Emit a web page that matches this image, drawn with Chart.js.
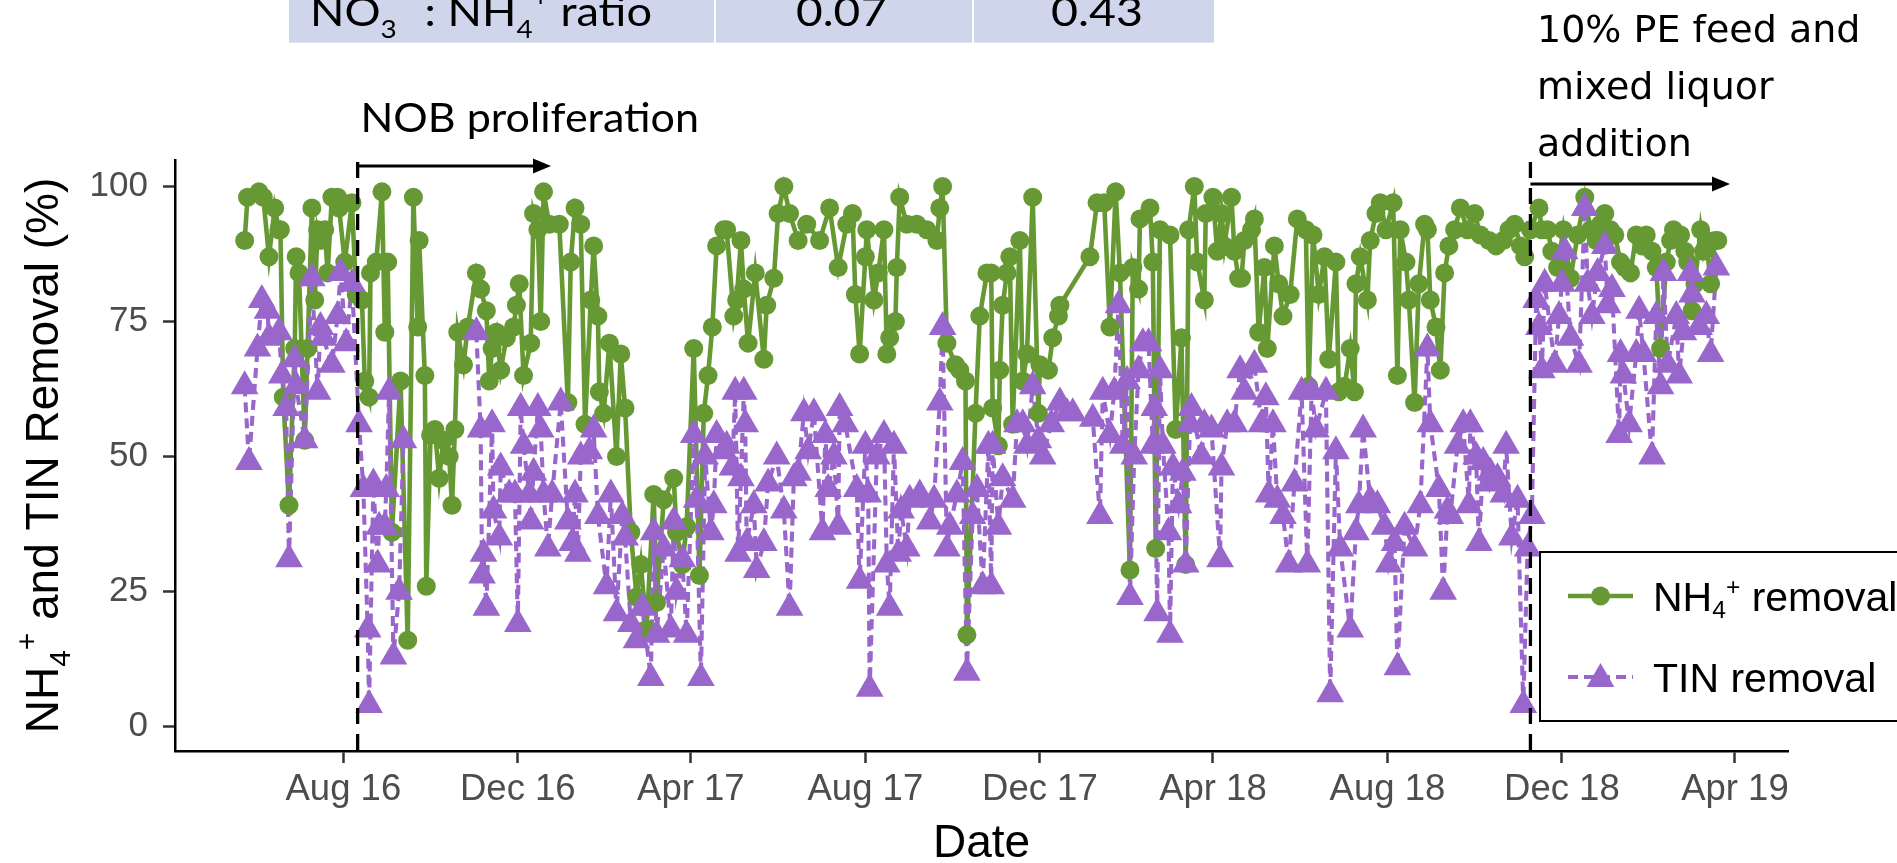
<!DOCTYPE html>
<html>
<head>
<meta charset="utf-8">
<title>NH4+ and TIN removal</title>
<script src="https://cdn.jsdelivr.net/npm/chart.js@4.4.1/dist/chart.umd.min.js"></script>
<style>
  html, body { margin: 0; padding: 0; background: #ffffff; }
  canvas { display: block; }
</style>
</head>
<body>
<canvas id="c" width="1897" height="863"></canvas>
<script>
// ---- Data (days counted from 2016-08-01) ----
const originDate = '2016-08-01';

const xTickDays = [0, 122, 243, 365, 487, 608, 730, 852, 973];
const xTickLabels = ['Aug 16', 'Dec 16', 'Apr 17', 'Aug 17', 'Dec 17', 'Apr 18', 'Aug 18', 'Dec 18', 'Apr 19'];
const yTickValues = [0, 25, 50, 75, 100];

const nh4Days = [
  -69,-67,-59,-56,-52,-48,-45,-44,-42,-38,-34,-33,-31,-27,-25,-22,-20,-18,-16,-13,-11,-8,-4,-3,
  1,6,9,13,15,18,19,23,27,29,31,34,40,45,49,52,53,57,58,61,64,67,70,74,76,78,80,84,87,93,96,
  100,102,104,107,110,114,119,121,123,126,131,133,136,138,140,144,151,157,159,162,166,169,173,175,178,179,182,186,191,194,197,
  201,205,208,212,217,219,224,231,233,237,240,245,249,252,255,258,261,266,268,273,275,278,280,283,288,294,296,
  301,304,308,312,318,324,333,340,346,352,356,358,361,365,366,371,374,378,380,382,386,387,389,394,
  401,408,415,417,419,422,428,431,435,436,442,445,450,453,454,458,459,461,464,466,468,473,475,478,482,486,487,493,496,500,501,
  522,527,532,536,540,543,550,552,556,557,564,566,568,571,578,582,586,589,591,595,597,
  602,603,608,611,614,616,621,623,626,628,630,635,637,640,644,646,651,654,657,662,667,673,675,678,682,686,689,694,696,
  700,704,707,708,711,716,718,722,725,729,734,737,739,743,745,749,752,756,758,760,764,767,770,773,777,781,786,791,795,
  801,806,811,815,819,823,826,830,836,838,842,845,849,853,858,863,868,872,876,879,882,886,889,893,896,
  900,904,908,911,915,918,921,925,928,930,935,938,940,943,945,949,951,953,956,959,961
];
const nh4Removal = [
  90,98,99,98,87,96,92,92,61,41,70,87,84,53,70,96,79,92,90,92,84,98,98,96,
  86,97,80,79,64,61,84,86,99,73,86,36,64,16,98,74,90,65,26,54,55,46,53,50,41,55,73,67,74,84,81,
  77,64,70,73,66,72,74,78,82,65,71,95,92,75,99,93,93,60,86,96,93,56,79,89,76,62,58,71,50,69,59,
  36,24,30,18,43,23,42,46,36,30,37,70,28,58,65,74,89,92,92,76,79,90,81,71,84,68,78,
  83,95,100,95,90,93,90,96,85,93,95,80,69,87,92,79,84,92,69,72,75,85,98,93,
  93,92,90,96,100,71,67,66,64,17,58,76,84,84,59,52,66,78,84,87,56,90,64,69,98,58,67,66,72,76,78,
  87,97,97,74,99,84,29,85,81,94,96,86,33,92,91,55,72,30,92,100,86,
  79,95,98,88,95,89,98,88,83,83,90,92,94,73,85,70,89,82,76,80,94,92,63,91,80,87,68,86,62,
  63,70,62,82,87,79,90,95,97,92,97,65,92,86,79,60,82,93,92,79,74,66,84,89,92,96,92,95,91,
  90,89,90,92,93,89,87,92,96,92,92,88,85,92,83,91,98,92,90,93,95,92,91,86,85,
  84,91,89,91,88,85,70,86,90,92,91,88,86,77,82,92,88,90,82,90,90
];

const tinDays = [
  -69,-66,-60,-57,-53,-52,-45,-43,-40,-38,-34,-33,-27,-22,-18,-16,-14,-8,-4,-2,
  2,6,11,14,17,18,21,24,25,29,30,32,35,39,42,60,
  93,96,97,98,100,104,105,109,110,116,120,122,124,126,130,131,133,136,138,140,143,146,152,157,160,162,164,166,172,175,178,184,187,191,195,197,
  201,205,209,215,217,219,224,229,231,233,237,240,245,247,250,253,257,259,261,266,268,272,274,276,278,280,281,282,287,289,294,297,
  303,308,312,315,318,322,325,329,335,337,339,343,346,347,351,359,361,365,367,368,373,378,380,382,385,388,390,394,396,
  403,410,413,417,419,422,424,429,433,436,440,443,447,451,453,454,458,461,468,471,475,478,482,486,489,495,
  501,506,510,524,529,531,536,539,542,545,548,550,553,556,559,563,566,567,569,571,573,577,578,580,584,587,589,592,593,
  600,602,607,613,614,618,623,627,630,637,642,645,647,650,653,657,661,665,670,674,677,680,687,690,694,697,
  704,708,710,713,718,723,728,731,735,737,742,749,753,758,760,766,769,772,774,779,783,787,788,792,794,797,
  801,802,807,811,813,817,821,825,828,831,834,836,838,840,847,850,852,854,858,864,868,870,873,877,882,884,887,892,893,895,899,
  904,906,909,915,918,921,923,926,932,934,937,942,943,948,953,956,960
];
const tinRemoval = [
  63,49,70,79,77,72,73,65,59,31,68,63,53,83,62,74,72,67,76,84,
  71,82,56,44,18,4,45,30,37,37,44,62,13,25,53,null,
  73,55,28,32,22,56,40,35,48,43,43,19,59,52,43,38,47,59,55,43,33,43,60,38,34,43,32,50,51,55,39,26,43,21,39,35,
  19,16,22,9,36,17,33,18,38,25,31,17,54,42,9,50,36,41,54,51,52,48,62,32,46,62,56,34,41,29,34,45,
  50,40,22,46,47,58,51,58,36,54,44,50,37,59,56,44,27,52,43,7,50,54,30,22,52,32,40,33,42,
  43,38,42,60,74,33,37,43,49,10,39,44,26,52,26,52,37,46,42,56,56,52,63,53,50,56,
  60,58,58,57,39,62,54,62,78,52,64,24,50,66,71,71,52,59,21,66,52,36,17,48,41,47,30,56,59,
  50,56,55,31,48,56,56,66,62,67,56,61,43,56,42,39,30,45,62,30,62,55,62,6,51,33,
  18,36,41,55,42,41,37,30,34,11,37,33,41,70,56,44,25,40,39,52,56,41,56,50,34,49,
  45,47,46,43,52,35,42,4,33,39,79,74,66,82,67,76,82,88,72,67,96,82,76,84,89,78,81,54,69,65,56,
  69,77,69,50,76,63,84,67,76,65,73,84,80,74,76,69,85
];

const phaseStartDays = [10, 830];
const seriesLabels = ['NH\u2084\u207A removal', 'TIN removal'];

// ---- Styles ----
const GREEN = '#669933';
const PURPLE = '#9966CC';
const SANS = '"Liberation Sans", Arial, sans-serif';
const CALIBRI_LIKE = 'Lato, "Open Sans", sans-serif';
const VERDANA_LIKE = '"DejaVu Sans", Verdana, sans-serif';
const CIRCLE_R = 9.5;
const TRI_R = 16;
const LINE_W = 4.6;
const TIN_DASH = [10, 6];

const nh4Points = nh4Days.map((d, i) => ({ x: d, y: nh4Removal[i] }));
const tinPoints = tinDays.map((d, i) => ({ x: d, y: tinRemoval[i] }));

// ---- text helpers ----
function richWidth(ctx, segs, size, family) {
  let w = 0;
  for (const s of segs) {
    ctx.font = (size * (s.k || 1)) + 'px ' + family;
    w += ctx.measureText(s.t).width;
  }
  return w;
}
function drawRich(ctx, segs, x, y, size, family) {
  let cx = x;
  for (const s of segs) {
    ctx.font = (size * (s.k || 1)) + 'px ' + family;
    ctx.fillText(s.t, cx, y + (s.dy || 0) * size);
    cx += ctx.measureText(s.t).width;
  }
}
function drawFit(ctx, segs, x0, x1, baseline, size, family) {
  const w = richWidth(ctx, segs, size, family);
  const sx = (x1 - x0) / w;
  ctx.save();
  ctx.translate(x0, baseline);
  ctx.scale(sx, 1);
  drawRich(ctx, segs, 0, 0, size, family);
  ctx.restore();
}
function arrow(ctx, x0, x1, y) {
  ctx.save();
  ctx.strokeStyle = '#000';
  ctx.fillStyle = '#000';
  ctx.lineWidth = 3;
  ctx.setLineDash([]);
  ctx.beginPath();
  ctx.moveTo(x0, y);
  ctx.lineTo(x1 - 12, y);
  ctx.stroke();
  ctx.beginPath();
  ctx.moveTo(x1, y);
  ctx.lineTo(x1 - 18, y - 7.5);
  ctx.lineTo(x1 - 18, y + 7.5);
  ctx.closePath();
  ctx.fill();
  ctx.restore();
}
function triangle(ctx, x, y, r) {
  ctx.beginPath();
  ctx.moveTo(x, y - r);
  ctx.lineTo(x + Math.sin(2 * Math.PI / 3) * r, y + r / 2);
  ctx.lineTo(x - Math.sin(2 * Math.PI / 3) * r, y + r / 2);
  ctx.closePath();
  ctx.fill();
}

const annotations = {
  id: 'annotations',
  afterDatasetsDraw(chart) {
    const ctx = chart.ctx, xs = chart.scales.x, area = chart.chartArea;
    ctx.save();
    ctx.strokeStyle = '#000';
    ctx.lineWidth = 3.3;
    ctx.setLineDash([16, 10]);
    for (const d of phaseStartDays) {
      const px = xs.getPixelForValue(d);
      ctx.beginPath();
      ctx.moveTo(px, 162);
      ctx.lineTo(px, area.bottom);
      ctx.stroke();
    }
    ctx.restore();
  },
  afterDraw(chart) {
    const ctx = chart.ctx, xs = chart.scales.x, area = chart.chartArea;
    ctx.save();
    ctx.textAlign = 'left';
    ctx.textBaseline = 'alphabetic';

    // --- table strip at top ---
    ctx.fillStyle = '#CFD5EA';
    ctx.fillRect(289, 0, 425, 42.7);
    ctx.fillRect(716, 0, 256, 42.7);
    ctx.fillRect(974, 0, 240, 42.7);
    ctx.fillStyle = '#000';
    drawFit(ctx, [
      { t: 'NO' }, { t: '3', k: 0.62, dy: 0.29 }, { t: '\u2212', k: 0.62, dy: -0.7 },
      { t: ' : NH' }, { t: '4', k: 0.62, dy: 0.29 }, { t: '+', k: 0.62, dy: -0.5 }, { t: ' ratio' }
    ], 310, 652, 26, 41, CALIBRI_LIKE);
    drawFit(ctx, [{ t: '0.07' }], 796, 887, 26, 41, CALIBRI_LIKE);
    drawFit(ctx, [{ t: '0.43' }], 1051, 1143, 26, 41, CALIBRI_LIKE);

    // --- phase annotations ---
    const v1 = xs.getPixelForValue(phaseStartDays[0]);
    const v2 = xs.getPixelForValue(phaseStartDays[1]);
    drawFit(ctx, [{ t: 'NOB proliferation' }], 360.5, 699, 132, 40, CALIBRI_LIKE);
    arrow(ctx, v1, 551, 166);

    ctx.font = '38px ' + VERDANA_LIKE;
    ctx.fillText('10% PE feed and', 1537, 42);
    ctx.fillText('mixed liquor', 1537, 99);
    ctx.fillText('addition', 1537, 156);
    arrow(ctx, v2, 1730, 184);

    // --- axis titles ---
    ctx.fillStyle = '#000';
    ctx.font = '46px ' + SANS;
    ctx.textAlign = 'center';
    ctx.fillText('Date', (area.left + area.right) / 2, 857);
    ctx.textAlign = 'left';
    const ySegs = [
      { t: 'NH' }, { t: '4', k: 0.65, dy: 0.25 }, { t: '+', k: 0.65, dy: -0.45 },
      { t: ' and TIN Removal (%)' }
    ];
    const yw = richWidth(ctx, ySegs, 46, SANS);
    ctx.save();
    ctx.translate(58, (area.top + area.bottom) / 2 + yw / 2);
    ctx.rotate(-Math.PI / 2);
    drawRich(ctx, ySegs, 0, 0, 46, SANS);
    ctx.restore();

    // --- legend ---
    ctx.fillStyle = '#fff';
    ctx.fillRect(1540, 552, 420, 169);
    ctx.strokeStyle = '#000';
    ctx.lineWidth = 2;
    ctx.strokeRect(1540, 552, 420, 169);

    ctx.strokeStyle = GREEN;
    ctx.lineWidth = LINE_W;
    ctx.beginPath(); ctx.moveTo(1568, 596); ctx.lineTo(1633, 596); ctx.stroke();
    ctx.fillStyle = GREEN;
    ctx.beginPath(); ctx.arc(1600.5, 596, CIRCLE_R, 0, Math.PI * 2); ctx.fill();

    ctx.strokeStyle = PURPLE;
    ctx.lineWidth = LINE_W - 0.5;
    ctx.setLineDash(TIN_DASH);
    ctx.beginPath(); ctx.moveTo(1568, 677); ctx.lineTo(1633, 677); ctx.stroke();
    ctx.setLineDash([]);
    ctx.fillStyle = PURPLE;
    triangle(ctx, 1600.5, 679, TRI_R);

    ctx.fillStyle = '#000';
    drawRich(ctx, [
      { t: 'NH' }, { t: '4', k: 0.6, dy: 0.18 }, { t: '+', k: 0.6, dy: -0.38 }, { t: ' removal' }
    ], 1653, 611, 41, SANS);
    drawRich(ctx, [{ t: seriesLabels[1] }], 1653, 692, 41, SANS);

    ctx.restore();
  }
};

new Chart(document.getElementById('c'), {
  type: 'line',
  data: {
    datasets: [
      { label: seriesLabels[1] + ' points', data: tinPoints, showLine: false,
        pointStyle: 'triangle', pointRadius: TRI_R, pointBackgroundColor: PURPLE, pointBorderWidth: 0, order: 0 },
      { label: seriesLabels[0] + ' points', data: nh4Points, showLine: false,
        pointStyle: 'circle', pointRadius: CIRCLE_R, pointBackgroundColor: GREEN, pointBorderWidth: 0, order: 1 },
      { label: seriesLabels[1], data: tinPoints, borderColor: PURPLE, borderWidth: LINE_W - 0.5,
        borderDash: TIN_DASH, pointRadius: 0, tension: 0, spanGaps: false, order: 2 },
      { label: seriesLabels[0], data: nh4Points, borderColor: GREEN, borderWidth: LINE_W,
        pointRadius: 0, tension: 0, order: 3 }
    ]
  },
  options: {
    responsive: false,
    devicePixelRatio: 1,
    animation: false,
    events: [],
    layout: { padding: { left: 0, right: 109, top: 160, bottom: 0 } },
    plugins: { legend: { display: false }, tooltip: { enabled: false } },
    scales: {
      x: {
        type: 'linear',
        min: -117.7,
        max: 1010.1,
        afterBuildTicks: s => { s.ticks = xTickDays.map(v => ({ value: v })); },
        afterFit: s => { s.height = 112; },
        ticks: {
          autoSkip: false, maxRotation: 0, minRotation: 0,
          callback: (v, i) => xTickLabels[i],
          color: '#4D4D4D', padding: 5,
          font: { family: SANS, size: 36.5 }
        },
        grid: { drawOnChartArea: false, drawTicks: true, tickLength: 12, tickColor: '#333333', tickWidth: 2.5 },
        border: { display: true, color: '#000', width: 2.5 }
      },
      y: {
        type: 'linear',
        min: -4.5,
        max: 104.9,
        afterBuildTicks: s => { s.ticks = yTickValues.map(v => ({ value: v })); },
        afterFit: s => { s.width = 175; },
        ticks: {
          color: '#4D4D4D', padding: 15,
          font: { family: SANS, size: 35 }
        },
        grid: { drawOnChartArea: false, drawTicks: true, tickLength: 12, tickColor: '#333333', tickWidth: 2.5 },
        border: { display: true, color: '#000', width: 2.5 }
      }
    }
  },
  plugins: [annotations]
});
</script>
</body>
</html>
